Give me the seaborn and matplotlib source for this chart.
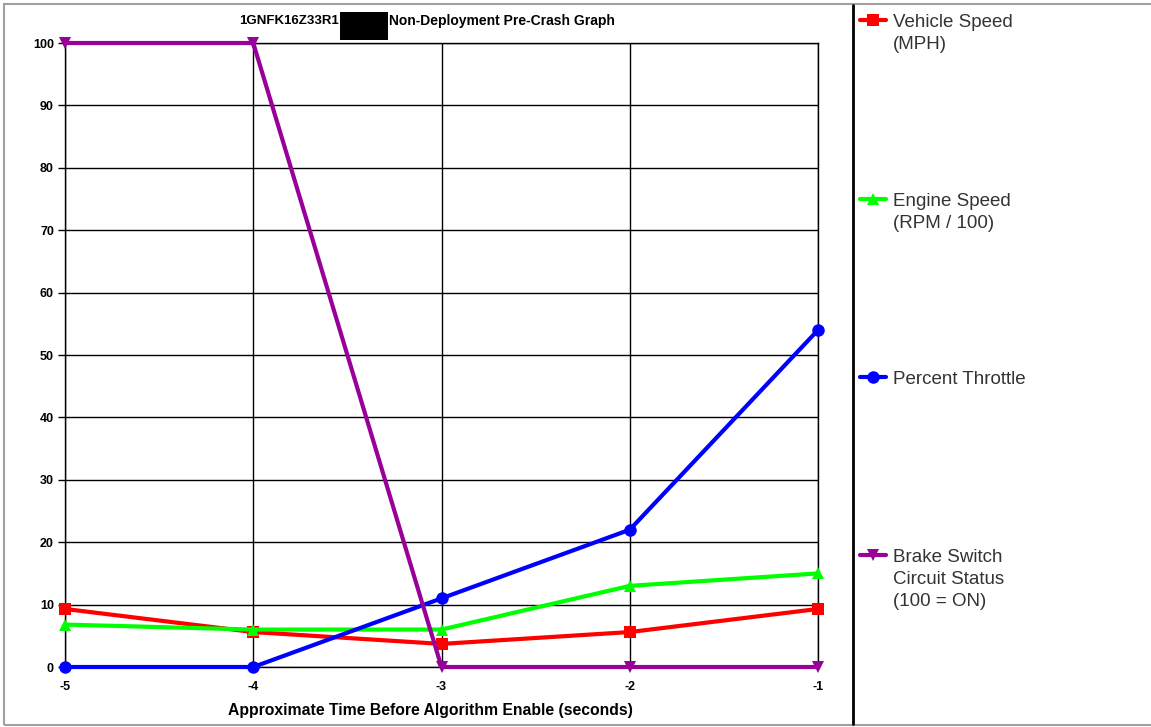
import numpy as np
import pandas as pd
import matplotlib
matplotlib.use("Agg")
import matplotlib.pyplot as plt
from matplotlib.lines import Line2D
from matplotlib.patches import Rectangle
import seaborn as sns

# Pre-crash samples, one per second before algorithm enable
time_s = [-5, -4, -3, -2, -1]
vehicle_speed = [9.3, 5.6, 3.7, 5.6, 9.3]
engine_speed = [6.8, 6.0, 6.0, 13.0, 15.0]
percent_throttle = [0, 0, 11, 22, 54]
brake_status = [100, 100, 0, 0, 0]

series_names = ["Vehicle Speed\n(MPH)", "Engine Speed\n(RPM / 100)",
                "Percent Throttle", "Brake Switch\nCircuit Status\n(100 = ON)"]
series_values = [vehicle_speed, engine_speed, percent_throttle, brake_status]
series_colors = ["#ff0000", "#00ff00", "#0000ff", "#990099"]
series_markers = ["s", "^", "o", "v"]
y_ticks = list(range(0, 101, 10))

title_left = "1GNFK16Z33R1"
title_right = "Non-Deployment Pre-Crash Graph"
x_label = "Approximate Time Before Algorithm Enable (seconds)"

df = pd.DataFrame({
    "time": time_s * len(series_names),
    "value": sum(series_values, []),
    "series": np.repeat(series_names, len(time_s)),
})

sns.set_theme(style="white")
plt.rcParams["font.family"] = ["Liberation Sans", "DejaVu Sans"]
plt.rcParams["axes.unicode_minus"] = False

W, H = 1151, 727
fig = plt.figure(figsize=(W / 100, H / 100), dpi=100)
fig.patch.set_facecolor("white")


def fx(px):
    return px / W


def fy(py):
    return 1 - py / H


ax = fig.add_axes([fx(65), fy(667), fx(818) - fx(65), fy(43) - fy(667)])

sns.lineplot(
    data=df, x="time", y="value", hue="series", style="series",
    hue_order=series_names, style_order=series_names,
    palette=dict(zip(series_names, series_colors)),
    markers=dict(zip(series_names, series_markers)),
    dashes=False, linewidth=3, markersize=9, markeredgewidth=0,
    legend=False, ax=ax, zorder=3,
)
for line in ax.lines:
    line.set_clip_on(False)

ax.set_xlim(-5, -1)
ax.set_ylim(0, 100)
ax.set_xticks(time_s)
ax.set_yticks(y_ticks)
ax.grid(True, color="black", linewidth=1)
ax.set_axisbelow(True)
for s in ax.spines.values():
    s.set_color("black")
    s.set_linewidth(1)
ax.tick_params(axis="y", which="both", left=True, length=5, width=1,
               color="black", pad=3, labelsize=9)
ax.tick_params(axis="x", which="both", bottom=False, pad=4, labelsize=9)
for lab in ax.get_xticklabels() + ax.get_yticklabels():
    lab.set_fontweight("bold")
    lab.set_color("black")
ax.set_xlabel("")
ax.set_ylabel("")
fig.text(fx(430), fy(711), x_label, ha="center", va="center",
         fontsize=11.3, fontweight="bold", color="black")

# Title with the masked portion of the identifier
fig.text(fx(339), fy(21), title_left, ha="right", va="center",
         fontsize=9.5, fontweight="bold", color="black")
fig.text(fx(389), fy(21), title_right, ha="left", va="center",
         fontsize=10, fontweight="bold", color="black")
fig.add_artist(Rectangle((fx(340), fy(40)), fx(388) - fx(340), fy(12) - fy(40),
                         transform=fig.transFigure, facecolor="black",
                         edgecolor="none", zorder=5))

# Outer frame and legend divider
fig.add_artist(Rectangle((fx(4), fy(725)), fx(1160) - fx(4), fy(4) - fy(725),
                         transform=fig.transFigure, facecolor="none",
                         edgecolor="#a0a0a0", linewidth=1.5))
fig.add_artist(Line2D([fx(853), fx(853)], [fy(5), fy(724)],
                      transform=fig.transFigure, color="black", linewidth=2))

# Legend entries spread down the right panel
legend_rows = [20, 199, 377, 555]
for name, color, marker, row in zip(series_names, series_colors,
                                    series_markers, legend_rows):
    fig.add_artist(Line2D([fx(860), fx(886)], [fy(row), fy(row)],
                          transform=fig.transFigure, color=color,
                          linewidth=3, marker=None))
    fig.add_artist(Line2D([fx(873)], [fy(row)], transform=fig.transFigure,
                          color=color, marker=marker, markersize=9,
                          markeredgewidth=0, linestyle="none"))
    fig.text(fx(893), fy(row - 6), name, ha="left", va="top",
             fontsize=13.5, color="#333333", linespacing=1.38)

fig.savefig("out.png", dpi=100)
